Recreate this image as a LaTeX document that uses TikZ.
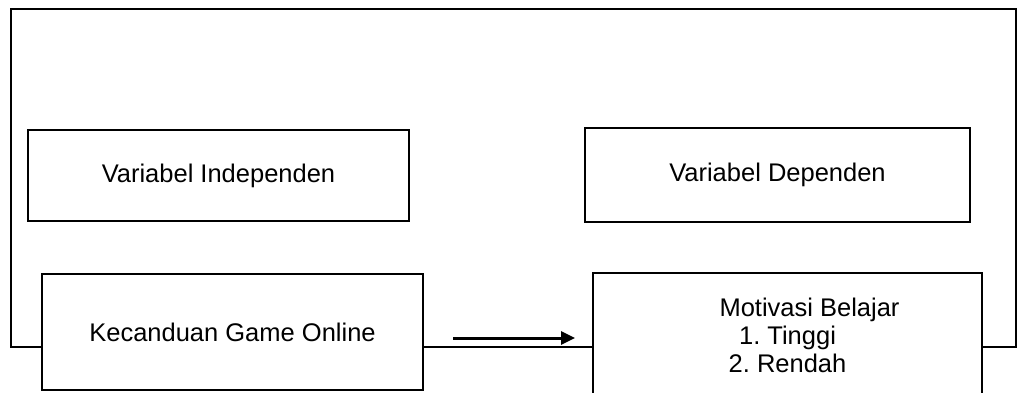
\documentclass[tikz,border=0pt]{standalone}
\usepackage{fontspec}
\setmainfont{Liberation Sans}
\usetikzlibrary{calc}
\usetikzlibrary{arrows.meta}
\frenchspacing
\tikzstyle{every node}=[font=\fontsize{25.5}{28}\selectfont]
\tikzstyle{every path}=[line width=2.2pt,line cap=rect,line join=miter]

\begin{document}
\begin{tikzpicture}[x=1pt,y=-1pt]
		\tikzstyle{varbox} = [draw,inner sep=0pt,outer sep=0pt,align=center]
		\tikzstyle{arrow} = [line width=3pt,-{Triangle[length=14pt, width=13pt]}]
		\useasboundingbox (0,0) rectangle (1024,392);
		
		\coordinate (tl) at (11,9);
		\coordinate (tr) at (1016,9);
		\coordinate (bl) at (11,347);
		\coordinate (br) at (1016,347);
		
		\node[varbox,minimum width=381pt,minimum height=91pt] (indep) at (218.5,175.5) {Variabel Independen};
		\node[varbox,minimum width=385pt,minimum height=94pt] (dep) at (777.5,175) {Variabel Dependen};
		\node[varbox,minimum width=381pt,minimum height=116pt] (game) at (232.5,332) {Kecanduan Game Online};
		\node[varbox,minimum width=389pt,minimum height=124pt] (motiv) at (787.5,335) {\hspace*{44pt}Motivasi Belajar\\1. Tinggi\\2. Rendah};
		
		\draw (game.west |- bl) -- (bl) -- (tl) -- (tr) -- (br) -- (motiv.east |- br);
		\draw (game.east |- bl) -- (motiv.west |- bl);
		
		\coordinate (a1) at (453,338);
		\coordinate (a2) at (575,338);
		\draw[arrow,line cap=butt] (a1) -- (a2);
		
	\end{tikzpicture}
\end{document}
